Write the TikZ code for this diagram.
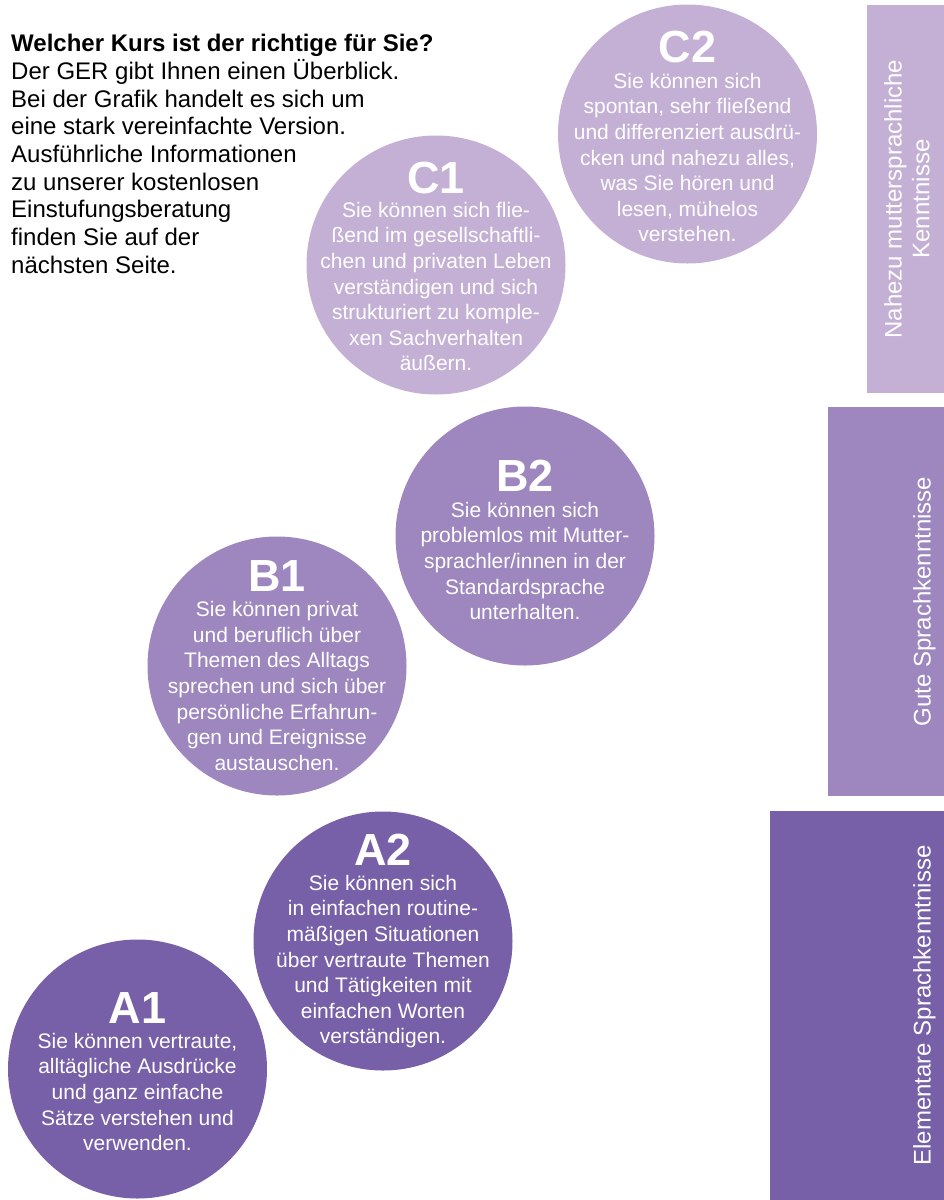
\documentclass[tikz,border=0pt]{standalone}
\usepackage{fontspec}
\setmainfont{Liberation Sans}
\definecolor{levC}{HTML}{C5B0D5}
\definecolor{levB}{HTML}{9D87BE}
\definecolor{levA}{HTML}{7760A8}
\begin{document}
\begin{tikzpicture}[x=1pt,y=-1pt,
  level/.style={circle, minimum size=259pt, inner sep=0pt, draw=none, fill=#1},
  levhead/.style={anchor=base, inner sep=0pt, text=white, font=\fontsize{45}{50}\selectfont\bfseries},
  levbody/.style={anchor=north, inner sep=0pt, align=center, text=white, font=\fontsize{21}{25.6}\selectfont},
  band/.style={rectangle, anchor=north west, inner sep=0pt, draw=none, fill=#1},
  bandlabel/.style={rotate=90, anchor=north, inner sep=0pt, align=center, text=white, font=\fontsize{24}{27.6}\selectfont},
  intro/.style={anchor=north west, inner sep=0pt, align=left, text=black, font=\fontsize{24}{27.7}\selectfont}
]
\useasboundingbox (0,0) rectangle (944,1200);

% bands on the right
\node[band=levC, minimum width=77pt, minimum height=388pt] (bandC) at (867,5) {};
\node[band=levB, minimum width=116pt, minimum height=389pt] (bandB) at (828,407) {};
\node[band=levA, minimum width=174pt, minimum height=389pt] (bandA) at (770,811) {};
\node[bandlabel] (bandCl) at (882.5,199) {\rule{0pt}{19pt}Nahezu muttersprachliche\\Kenntnisse};
\node[bandlabel] (bandBl) at (911.5,601.5) {\rule{0pt}{19pt}Gute Sprachkenntnisse};
\node[bandlabel] (bandAl) at (911.5,1005.5) {\rule{0pt}{19pt}Elementare Sprachkenntnisse};

% intro text
\node[intro] (intro) at (11,32.5) {\rule{0pt}{19pt}\textbf{Welcher Kurs ist der richtige für Sie?}\\
Der GER gibt Ihnen einen Überblick.\\
Bei der Grafik handelt es sich um\\
eine stark vereinfachte Version.\\
Ausführliche Informationen\\
zu unserer kostenlosen\\
Einstufungsberatung\\
finden Sie auf der\\
nächsten Seite.};

% circles
\node[level=levC] (c2) at (687.5,134) {};
\node[level=levC] (c1) at (436,265) {};
\node[level=levB] (b2) at (525,536) {};
\node[level=levB] (b1) at (277,666) {};
\node[level=levA] (a2) at (383,941) {};
\node[level=levA] (a1) at (137.5,1069) {};

% C2
\node[levhead] (c2h) at (687.5,62) {C2};
\node[levbody] (c2b) at (687.5,71) {\rule{0pt}{17pt}Sie können sich\\
spontan, sehr fließend\\
und differenziert ausdrü-\\
cken und nahezu alles,\\
was Sie hören und\\
lesen, mühelos\\
verstehen.};

% C1
\node[levhead] (c1h) at (436,193) {C1};
\node[levbody] (c1b) at (436,200) {\rule{0pt}{17pt}Sie können sich flie-\\
ßend im gesellschaftli-\\
chen und privaten Leben\\
verständigen und sich\\
strukturiert zu komple-\\
xen Sachverhalten\\
äußern.};

% B2
\node[levhead] (b2h) at (525,491) {B2};
\node[levbody] (b2b) at (525,500) {\rule{0pt}{17pt}Sie können sich\\
problemlos mit Mutter-\\
sprachler/innen in der\\
Standardsprache\\
unterhalten.};

% B1
\node[levhead] (b1h) at (277,591) {B1};
\node[levbody] (b1b) at (277,599.5) {\rule{0pt}{17pt}Sie können privat\\
und beruflich über\\
Themen des Alltags\\
sprechen und sich über\\
persönliche Erfahrun-\\
gen und Ereignisse\\
austauschen.};

% A2
\node[levhead] (a2h) at (383,865) {A2};
\node[levbody] (a2b) at (383,873) {\rule{0pt}{17pt}Sie können sich\\
in einfachen routine-\\
mäßigen Situationen\\
über vertraute Themen\\
und Tätigkeiten mit\\
einfachen Worten\\
verständigen.};

% A1
\node[levhead] (a1h) at (137.5,1023) {A1};
\node[levbody] (a1b) at (137.5,1031) {\rule{0pt}{17pt}Sie können vertraute,\\
alltägliche Ausdrücke\\
und ganz einfache\\
Sätze verstehen und\\
verwenden.};
\end{tikzpicture}
\end{document}
